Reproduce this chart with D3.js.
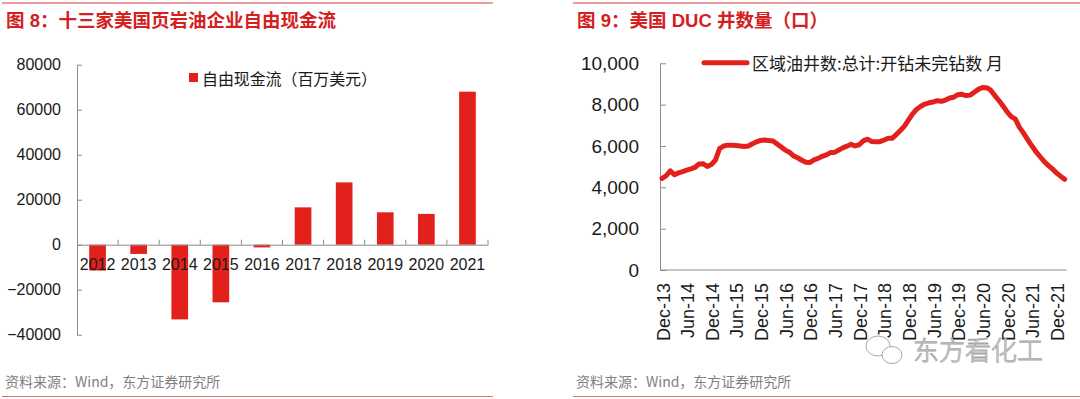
<!DOCTYPE html>
<html>
<head>
<meta charset="utf-8">
<script src="https://cdn.jsdelivr.net/npm/d3@7"></script>
<style>
  html, body { margin: 0; padding: 0; background: #fff; }
  svg { display: block; }
  text { font-family: "Liberation Sans", Arial, "Noto Sans CJK SC", sans-serif; }
</style>
</head>
<body>
<svg id="chart" width="1080" height="399"></svg>
<script>
// ---------- data ----------
const years = ["2012","2013","2014","2015","2016","2017","2018","2019","2020","2021"];
const fcfValues = [-11500, -4100, -33200, -25600, -1200, 16600, 27700, 14400, 13700, 68000];
const fcfTicks = [-40000, -20000, 0, 20000, 40000, 60000, 80000];

const ducValues = [
  4430, 4560, 4800, 4610, 4700, 4760, 4830, 4890, 4960, 5130,
  5140, 5010, 5100, 5320, 5870, 6000, 6040, 6040, 6020, 6000,
  5980, 6000, 6110, 6200, 6270, 6290, 6260, 6240, 6100, 5950,
  5800, 5700, 5520, 5430, 5310, 5210, 5200, 5330, 5400, 5500,
  5570, 5680, 5690, 5800, 5910, 5990, 6080, 6000, 6060, 6250,
  6330, 6220, 6200, 6210, 6280, 6370, 6370, 6550, 6750, 6960,
  7260, 7550, 7780, 7920, 8030, 8090, 8130, 8190, 8160, 8220,
  8320, 8360, 8480, 8500, 8440, 8460, 8600, 8740, 8830, 8820,
  8700, 8440, 8200, 7930, 7650, 7420, 7300, 6900, 6620, 6310,
  6010, 5730, 5490, 5250, 5060, 4890, 4700, 4540, 4390
];
const ducTickLabels = ["Dec-13","Jun-14","Dec-14","Jun-15","Dec-15","Jun-16","Dec-16","Jun-17",
  "Dec-17","Jun-18","Dec-18","Jun-19","Dec-19","Jun-20","Dec-20","Jun-21","Dec-21"];
const ducTicks = [0, 2000, 4000, 6000, 8000, 10000];

const title1 = "图 8：十三家美国页岩油企业自由现金流";
const title2 = "图 9：美国 DUC 井数量（口）";
const legend1 = "自由现金流（百万美元）";
const legend2 = "区域油井数:总计:开钻未完钻数 月";
const source = "资料来源：Wind，东方证券研究所";
const watermark = "东方看化工";

// ---------- styles ----------
const RED = "#e3211c";
const TITLE_RED = "#d42020";
const AXIS = "#8c8c8c";
const TXT = "#1a1a1a";

const svg = d3.select("#chart");

// frame lines, titles, sources
function panelFrame(x0, x1, tx, title, titleLen) {
  svg.append("line").attr("x1", x0).attr("x2", x1).attr("y1", 3).attr("y2", 3)
    .attr("stroke", "#d83a3a").attr("stroke-width", 1.2);
  svg.append("line").attr("x1", x0).attr("x2", x1).attr("y1", 396.5).attr("y2", 396.5)
    .attr("stroke", "#ec6a6a").attr("stroke-width", 1.2);
  svg.append("text").attr("x", tx).attr("y", 27).text(title)
    .attr("fill", TITLE_RED).attr("font-size", 18.5).attr("font-weight", "bold")
    .attr("textLength", titleLen).attr("lengthAdjust", "spacing")
    .style("font-family", "'Liberation Sans', 'Noto Sans CJK SC', sans-serif");
  svg.append("text").attr("x", tx - 1).attr("y", 387).text(source)
    .attr("fill", "#7f7f7f").attr("font-size", 14)
    .style("font-family", "'Noto Sans CJK SC', sans-serif");
}
panelFrame(2, 493, 6, title1, 330);
panelFrame(573, 1080, 577, title2, 251);

// ---------- left: bar chart ----------
const xL = d3.scaleBand().domain(years).range([77, 488]).paddingInner(0.594).paddingOuter(0.297);
const yL = d3.scaleLinear().domain([-40000, 80000]).range([334.7, 64.7]);

const gYL = svg.append("g").attr("transform", "translate(77,0)")
  .call(d3.axisLeft(yL).tickValues(fcfTicks).tickFormat(d3.format("d"))
    .tickSizeInner(-5).tickSizeOuter(0).tickPadding(16));
gYL.selectAll("path, line").attr("stroke", AXIS);
gYL.selectAll("text").attr("font-size", 16).attr("fill", TXT)
  .style("font-family", "'Liberation Sans', Arial, sans-serif");

svg.append("g").selectAll("rect").data(years).join("rect")
  .attr("x", d => xL(d))
  .attr("width", xL.bandwidth())
  .attr("y", (d, i) => yL(Math.max(0, fcfValues[i])))
  .attr("height", (d, i) => Math.abs(yL(fcfValues[i]) - yL(0)))
  .attr("fill", RED);

const gXL = svg.append("g").attr("transform", `translate(0,${yL(0)})`)
  .call(d3.axisBottom(xL).tickSize(0).tickPadding(14));
gXL.select("path").attr("stroke", AXIS);
gXL.selectAll("text").attr("font-size", 16).attr("fill", TXT)
  .style("font-family", "'Liberation Sans', Arial, sans-serif");
// category boundary ticks
const boundaries = years.map(d => xL(d) - xL.step() * xL.paddingInner() / 2).concat([xL.range()[1]]);
svg.append("g").selectAll("line").data(boundaries.slice(1)).join("line")
  .attr("x1", d => d).attr("x2", d => d)
  .attr("y1", yL(0) - 5).attr("y2", yL(0))
  .attr("stroke", AXIS);

// legend left
svg.append("rect").attr("x", 189).attr("y", 73).attr("width", 9).attr("height", 9).attr("fill", RED);
svg.append("text").attr("x", 202).attr("y", 85).text(legend1)
  .attr("font-size", 16).attr("fill", TXT)
  .attr("textLength", 175).attr("lengthAdjust", "spacing")
  .style("font-family", "'Noto Sans CJK SC', sans-serif");

// ---------- right: line chart ----------
const idx = d3.range(ducValues.length);
const xR = d3.scalePoint().domain(idx).range([660, 1066.7]).padding(0.5);
const yR = d3.scaleLinear().domain([0, 10000]).range([270, 63.3]);

const gYR = svg.append("g").attr("transform", "translate(660,0)")
  .call(d3.axisLeft(yR).tickValues(ducTicks).tickFormat(d3.format(","))
    .tickSizeInner(-6).tickSizeOuter(0).tickPadding(21));
gYR.selectAll("path, line").attr("stroke", AXIS);
gYR.selectAll("text").attr("font-size", 19).attr("fill", TXT)
  .style("font-family", "'Liberation Sans', Arial, sans-serif");

const tickIdx = ducTickLabels.map((d, i) => i * 6);
const gXR = svg.append("g").attr("transform", "translate(0,270)")
  .call(d3.axisBottom(xR).tickValues(tickIdx).tickSize(0).tickFormat((d, i) => ducTickLabels[i]));
gXR.select("path").attr("stroke", AXIS).attr("d", "M660,0H1066.7");
gXR.selectAll(".tick text")
  .attr("font-size", 18).attr("fill", TXT)
  .attr("text-anchor", "end")
  .attr("y", 0).attr("dy", 0)
  .attr("transform", "translate(7,13) rotate(-90)")
  .style("font-family", "'Liberation Sans', Arial, sans-serif");

const line = d3.line().x((d, i) => xR(i)).y(d => yR(d));
svg.append("path").datum(ducValues).attr("d", line)
  .attr("fill", "none").attr("stroke", RED).attr("stroke-width", 5)
  .attr("stroke-linejoin", "round").attr("stroke-linecap", "round");

// legend right
svg.append("line").attr("x1", 704).attr("x2", 747).attr("y1", 62.7).attr("y2", 62.7)
  .attr("stroke", RED).attr("stroke-width", 5).attr("stroke-linecap", "round");
svg.append("text").attr("x", 752).attr("y", 70).text(legend2)
  .attr("font-size", 17).attr("fill", TXT)
  .attr("textLength", 251).attr("lengthAdjust", "spacing")
  .style("font-family", "'Noto Sans CJK SC', sans-serif");

// watermark
const wm = svg.append("g").attr("fill", "#fff").attr("stroke", "#a8a8a8").attr("stroke-width", 1);
wm.append("ellipse").attr("cx", 878).attr("cy", 346).attr("rx", 12).attr("ry", 10);
wm.append("ellipse").attr("cx", 892).attr("cy", 355).attr("rx", 10).attr("ry", 8.5);
wm.append("text").attr("x", 913).attr("y", 360).text(watermark)
  .attr("font-size", 26).attr("stroke-width", 0.9)
  .attr("textLength", 130).attr("lengthAdjust", "spacing")
  .style("font-family", "'Noto Sans CJK SC', sans-serif").style("font-weight", 300);
</script>
</body>
</html>
